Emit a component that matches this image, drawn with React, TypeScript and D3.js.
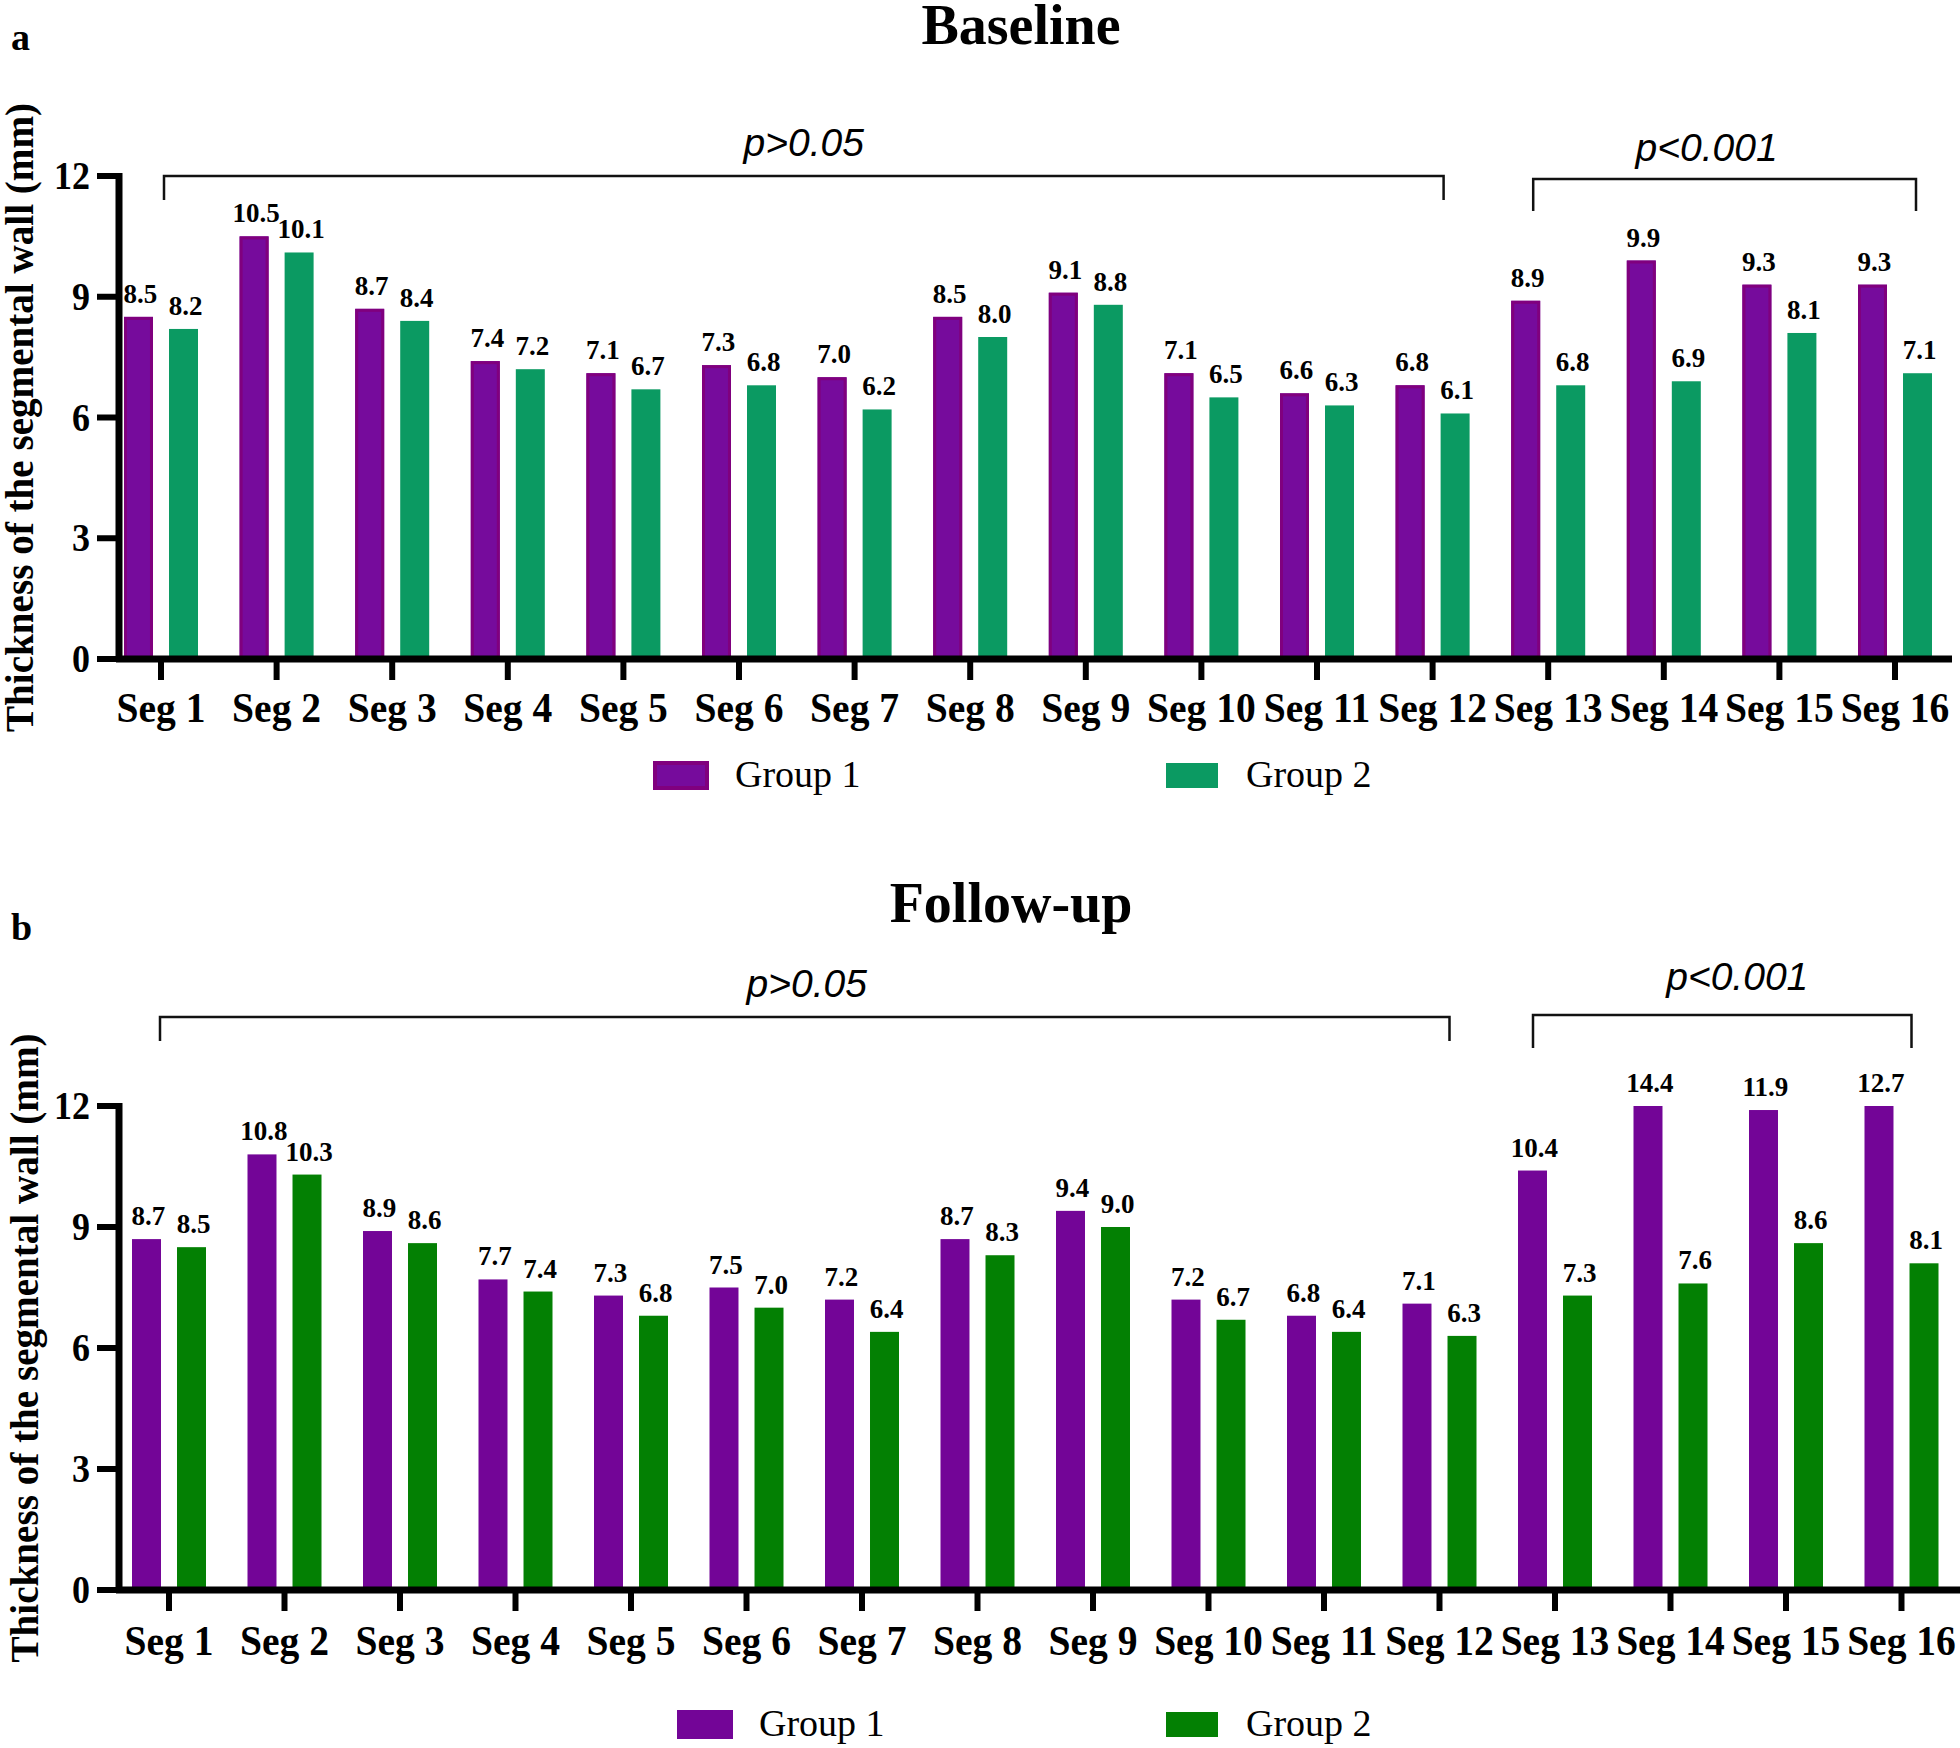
import React from 'react';
import * as d3 from 'd3';

// segment labels on the x axis
const segments = [
  'Seg 1', 'Seg 2', 'Seg 3', 'Seg 4', 'Seg 5', 'Seg 6', 'Seg 7', 'Seg 8',
  'Seg 9', 'Seg 10', 'Seg 11', 'Seg 12', 'Seg 13', 'Seg 14', 'Seg 15', 'Seg 16',
];
const groups = ['Group 1', 'Group 2'];
const yTicks = [0, 3, 6, 9, 12];

// baseline values (mm)
const baseGroup1 = [8.5, 10.5, 8.7, 7.4, 7.1, 7.3, 7.0, 8.5, 9.1, 7.1, 6.6, 6.8, 8.9, 9.9, 9.3, 9.3];
const baseGroup2 = [8.2, 10.1, 8.4, 7.2, 6.7, 6.8, 6.2, 8.0, 8.8, 6.5, 6.3, 6.1, 6.8, 6.9, 8.1, 7.1];

// follow-up values (mm)
const followGroup1 = [8.7, 10.8, 8.9, 7.7, 7.3, 7.5, 7.2, 8.7, 9.4, 7.2, 6.8, 7.1, 10.4, 14.4, 11.9, 12.7];
const followGroup2 = [8.5, 10.3, 8.6, 7.4, 6.8, 7.0, 6.4, 8.3, 9.0, 6.7, 6.4, 6.3, 7.3, 7.6, 8.6, 8.1];

// significance brackets: first/last segment index and the p text
const brackets = [
  { from: 0, to: 11, text: 'p>0.05' },
  { from: 12, to: 15, text: 'p<0.001' },
];

const SERIF = '"Times New Roman", "Liberation Serif", serif';
const SANS = 'Arial, "Liberation Sans", sans-serif';

const panels = [
  {
    title: 'Baseline',
    letter: 'a',
    g1: baseGroup1,
    g2: baseGroup2,
    purple: '#760B9C',
    purpleEdge: '#80007E',
    green: '#0B9A62',
    titleX: 1021,
    titleY: 44,
    letterY: 50,
    yRange: [659, 176],
    xRange: [103.2, 1952.8],
    axisEnd: 1952,
    tickLabelY: 722,
    yTitleX: 33,
    legend: { y: 763, x1: 655, x2: 1166 },
    br: [
      { dl: 3, dr: 11, y: 176, drop: 24, ty: 156, tdx: 0 },
      { dl: -15, dr: 21, y: 179, drop: 32, ty: 161, tdx: -18 },
    ],
  },
  {
    title: 'Follow-up',
    letter: 'b',
    g1: followGroup1,
    g2: followGroup2,
    purple: '#730597',
    purpleEdge: '#730597',
    green: '#038003',
    titleX: 1011,
    titleY: 922,
    letterY: 940,
    yRange: [1590, 1106],
    xRange: [111.25, 1959.25],
    axisEnd: 1960,
    tickLabelY: 1655,
    yTitleX: 38,
    legend: { y: 1712, x1: 679, x2: 1166 },
    br: [
      { dl: -9, dr: 10, y: 1017, drop: 24, ty: 997, tdx: 2 },
      { dl: -22, dr: 10, y: 1015, drop: 33, ty: 990, tdx: 15 },
    ],
  },
];

const AXIS_X = 119;

function Panel({ p }) {
  const y = d3.scaleLinear().domain([0, 12]).range(p.yRange);
  const x = d3.scaleBand().domain(segments).range(p.xRange).padding(0);
  const inner = d3.scaleBand().domain(groups).range([-37, 37]).paddingInner(0.356);
  const cx = (s) => x(s) + x.bandwidth() / 2;
  const bw = inner.bandwidth();
  const y0 = y(0);

  const bars = [];
  segments.forEach((s, i) => {
    [p.g1[i], p.g2[i]].forEach((v, k) => {
      const g = groups[k];
      const bx = cx(s) + inner(g);
      // follow-up bars above 12 are cut at the top of the axis
      const top = y(Math.min(v, 12));
      const isP = k === 0;
      bars.push(
        <g key={s + g}>
          <rect
            x={bx}
            y={top}
            width={bw}
            height={y0 - top}
            fill={isP ? p.purple : p.green}
          />
          {isP && p.purpleEdge !== p.purple && (
            <rect
              x={bx + 1.5}
              y={top + 1.5}
              width={bw - 3}
              height={y0 - top - 1.5}
              fill="none"
              stroke={p.purpleEdge}
              strokeWidth={3}
            />
          )}
          <text
            x={bx + bw / 2 + 2}
            y={top - 14}
            textAnchor="middle"
            fontFamily={SERIF}
            fontWeight="bold"
            fontSize={27}
          >
            {v.toFixed(1)}
          </text>
        </g>
      );
    });
  });

  return (
    <g>
      <text x={11} y={p.letterY} fontFamily={SERIF} fontWeight="bold" fontSize={38}>
        {p.letter}
      </text>
      <text
        x={p.titleX}
        y={p.titleY}
        textAnchor="middle"
        fontFamily={SERIF}
        fontWeight="bold"
        fontSize={56}
      >
        {p.title}
      </text>

      {/* significance brackets */}
      {brackets.map((b, i) => {
        const o = p.br[i];
        const l = cx(segments[b.from]) + o.dl;
        const r = cx(segments[b.to]) + o.dr;
        return (
          <g key={b.text}>
            <path
              d={`M${l},${o.y + o.drop}V${o.y}H${r}V${o.y + o.drop}`}
              fill="none"
              stroke="#111"
              strokeWidth={2.5}
            />
            <text
              x={(l + r) / 2 + o.tdx}
              y={o.ty}
              textAnchor="middle"
              fontFamily={SANS}
              fontStyle="italic"
              fontSize={39}
            >
              {b.text}
            </text>
          </g>
        );
      })}

      {bars}

      {/* y axis */}
      <line x1={AXIS_X} x2={AXIS_X} y1={y(12) - 3} y2={y0 + 3} stroke="#000" strokeWidth={7} />
      {yTicks.map((t) => (
        <g key={t}>
          <line x1={97} x2={AXIS_X} y1={y(t)} y2={y(t)} stroke="#000" strokeWidth={6} />
          <g transform={`translate(90,${y(t) + 13}) scale(0.9,1)`}>
            <text textAnchor="end" fontFamily={SERIF} fontWeight="bold" fontSize={40}>
              {t}
            </text>
          </g>
        </g>
      ))}

      {/* x axis */}
      <line x1={AXIS_X - 3} x2={p.axisEnd} y1={y0} y2={y0} stroke="#000" strokeWidth={7} />
      {segments.map((s) => (
        <g key={s}>
          <line x1={cx(s)} x2={cx(s)} y1={y0} y2={y0 + 21} stroke="#000" strokeWidth={6} />
          <g transform={`translate(${cx(s)},${p.tickLabelY}) scale(0.92,1)`}>
            <text textAnchor="middle" fontFamily={SERIF} fontWeight="bold" fontSize={43}>
              {s}
            </text>
          </g>
        </g>
      ))}

      {/* y axis title */}
      <text
        transform={`translate(${p.yTitleX},${y(6)}) rotate(-90)`}
        textAnchor="middle"
        fontFamily={SERIF}
        fontWeight="bold"
        fontSize={41}
        textLength={629}
        lengthAdjust="spacingAndGlyphs"
      >
        Thickness of the segmental wall (mm)
      </text>

      {/* legend */}
      {groups.map((g, k) => {
        const lx = k === 0 ? p.legend.x1 : p.legend.x2;
        return (
          <g key={g}>
            <rect
              x={lx}
              y={p.legend.y}
              width={52}
              height={25}
              fill={k === 0 ? p.purple : p.green}
              stroke={k === 0 ? p.purpleEdge : 'none'}
              strokeWidth={k === 0 ? 4 : 0}
            />
            <text x={lx + 80} y={p.legend.y + 24} fontFamily={SERIF} fontSize={38}>
              {g}
            </text>
          </g>
        );
      })}
    </g>
  );
}

export default function App() {
  return (
    <svg
      width={1960}
      height={1748}
      style={{ position: 'absolute', left: 0, top: 0, background: '#fff' }}
    >
      <rect width={1960} height={1748} fill="#fff" />
      {panels.map((p) => (
        <Panel key={p.title} p={p} />
      ))}
    </svg>
  );
}
